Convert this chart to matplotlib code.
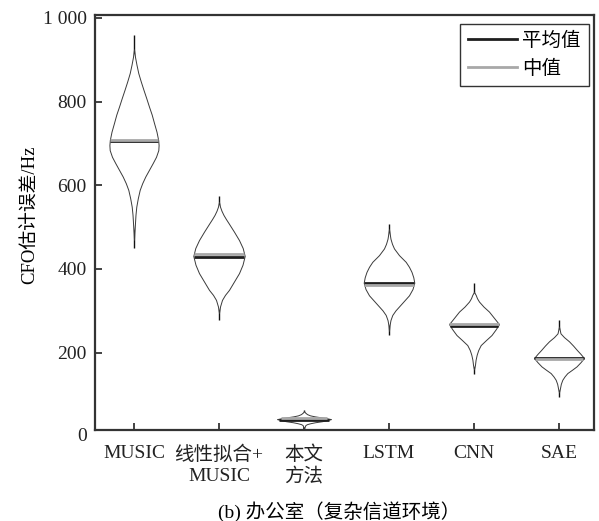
import numpy as np
import matplotlib
matplotlib.use("Agg")
import matplotlib.pyplot as plt
from matplotlib.lines import Line2D

# 字体: 西文用 Times 类, 中文回退到 Noto CJK
plt.rcParams['font.family'] = ['Liberation Serif', 'Noto Sans CJK SC']
plt.rcParams['axes.unicode_minus'] = False

# =========================
# 数据
# =========================
categories = ["MUSIC", "线性拟合+\nMUSIC", "本文\n方法", "LSTM", "CNN", "SAE"]
y_ticks = [200, 400, 600, 800, 1000]
y_tick_labels = ["200", "400", "600", "800", "1 000"]

err_min = [450, 278, 10, 242, 149, 95]
err_max = [959, 574, 63, 508, 366, 278]
err_mean = [706, 429, 40, 367, 263, 188]
err_median = [708, 435, 43, 361, 268, 184]

# 小提琴轮廓 (误差值 / 半宽, 像素)
music_y = [925, 907, 888, 868, 848, 828, 808, 788, 769, 749, 728, 708, 696, 684,
           668, 653, 637, 621, 605, 589, 569, 549, 530, 510, 486, 470]
music_w = [0, 1, 2.5, 4.3, 6.8, 9.5, 12.3, 15, 17.7, 20, 22.5, 24.2, 24.6, 24.3,
           22, 18.7, 15, 11.3, 8.2, 5.7, 3.8, 2.3, 1.5, 1, 0.3, 0]

linfit_y = [560, 549, 539, 529, 519, 509, 489, 469, 450, 431, 410, 390, 370, 350,
            338, 326, 310, 295]
linfit_w = [0, 1, 2.5, 4.5, 7, 9.7, 15, 20, 23.7, 25.7, 23.5, 20, 15, 10,
            6, 3, 1, 0]

ours_y = [60, 57, 53, 50, 47.5, 45, 43, 41, 38.5, 36, 33.5, 31, 29, 27, 22, 18]
ours_w = [0, 1, 3, 6, 11, 18, 23, 27, 23, 18, 11, 6, 3, 1.5, 0.5, 0]

lstm_y = [495, 472, 460, 449, 433, 417, 405, 393, 380, 367, 352, 337, 325, 313,
          301, 290, 278, 265, 252]
lstm_w = [0, 1.5, 3, 5, 10, 16.7, 20, 22.5, 24.3, 25.3, 23.5, 20, 15.5, 11,
          6.5, 3.3, 1.5, 0.5, 0]

cnn_y = [345, 338, 330, 322, 310, 298, 283, 268, 255, 242, 230, 218, 206, 195,
         183, 171, 160]
cnn_w = [0, 1.7, 3, 5, 9.5, 15, 20, 25, 21.5, 17.5, 12, 6.7, 4.2, 2.7,
         1.6, 1, 0]

sae_y = [262, 246, 237, 227, 217, 206, 197, 187, 177, 167, 159, 151, 143, 135,
         125, 115, 105]
sae_w = [0, 1.5, 5, 10, 14, 18, 21.5, 25, 21.5, 17.5, 13, 8.3, 5.5, 3.3,
         1.8, 1, 0]

profiles_y = [music_y, linfit_y, ours_y, lstm_y, cnn_y, sae_y]
profiles_w = [music_w, linfit_w, ours_w, lstm_w, cnn_w, sae_w]

PX_PER_UNIT = 85.0  # x 方向: 一个类别间隔约 85 像素
FS = 14

# =========================
# 绘图
# =========================
fig = plt.figure(figsize=(5.99, 5.21), dpi=100)
ax = fig.add_axes([95 / 599, 1 - 430 / 521, 499 / 599, 415 / 521])

positions = np.arange(1, len(categories) + 1)

vpstats = []
widths = []
for i in range(len(categories)):
    vpstats.append({
        "coords": np.array(profiles_y[i], dtype=float),
        "vals": np.array(profiles_w[i], dtype=float),
        "mean": err_mean[i],
        "median": err_median[i],
        "min": err_min[i],
        "max": err_max[i],
    })
    widths.append(2 * max(profiles_w[i]) / PX_PER_UNIT)

parts = ax.violin(vpstats, positions=positions, widths=widths,
                  showmeans=False, showextrema=True, showmedians=False)
for body in parts["bodies"]:
    body.set_facecolor("white")
    body.set_edgecolor("#3a3a3a")
    body.set_linewidth(0.7)
    body.set_alpha(1)
    body.set_zorder(2)
parts["cbars"].set_color("#111111")
parts["cbars"].set_linewidth(1.0)
parts["cbars"].set_zorder(1)
parts["cmins"].set_visible(False)
parts["cmaxes"].set_visible(False)

# 平均值 / 中值线, 横跨小提琴宽度
for i, pos in enumerate(positions):
    ys = np.array(profiles_y[i], dtype=float)
    ws = np.array(profiles_w[i], dtype=float)
    order = np.argsort(ys)
    for val, col in [(err_mean[i], "#1e1e1e"), (err_median[i], "#a8a8a8")]:
        hw = np.interp(val, ys[order], ws[order]) / PX_PER_UNIT
        ax.hlines(val, pos - hw, pos + hw, colors=col, linewidth=2, zorder=3)

ax.set_xlim(1 - 39 / PX_PER_UNIT, 6 + 35 / PX_PER_UNIT)
ax.set_ylim(15, 1007)
ax.set_xticks(positions)
ax.set_xticklabels(categories, fontsize=FS, linespacing=1.3)
ax.set_yticks(y_ticks)
ax.set_yticklabels(y_tick_labels, fontsize=FS)
ax.tick_params(direction="in", length=5, width=1.2, colors="#222222",
               top=False, right=False)
ax.tick_params(axis="x", pad=11)
ax.tick_params(axis="y", pad=6)
for sp in ax.spines.values():
    sp.set_linewidth(1.6)
    sp.set_color("#333333")

# 0 刻度标签在坐标轴下方
ax.text(-8 / 499, 0, "0", transform=ax.get_yaxis_transform(),
        ha="right", va="center", fontsize=FS, color="#222222", clip_on=False)

fig.text(29 / 599, 1 - 215 / 521, "CFO估计误差/Hz", rotation=90,
         ha="center", va="center", fontsize=13.5)
fig.text(339 / 599, 1 - 512 / 521, "(b) 办公室（复杂信道环境）",
         ha="center", va="center", fontsize=FS)

handles = [Line2D([], [], color="#1e1e1e", linewidth=2),
           Line2D([], [], color="#a8a8a8", linewidth=2)]
leg = ax.legend(handles, ["平均值", "中值"], loc="upper right",
                bbox_to_anchor=(0.9894, 0.9776), borderaxespad=0,
                fontsize=FS, handlelength=2.5, handletextpad=0.3,
                borderpad=0.4, labelspacing=0.5, fancybox=False,
                framealpha=1, edgecolor="#333333")
leg.get_frame().set_linewidth(1.0)

fig.savefig("out.png", dpi=100)
plt.close(fig)
